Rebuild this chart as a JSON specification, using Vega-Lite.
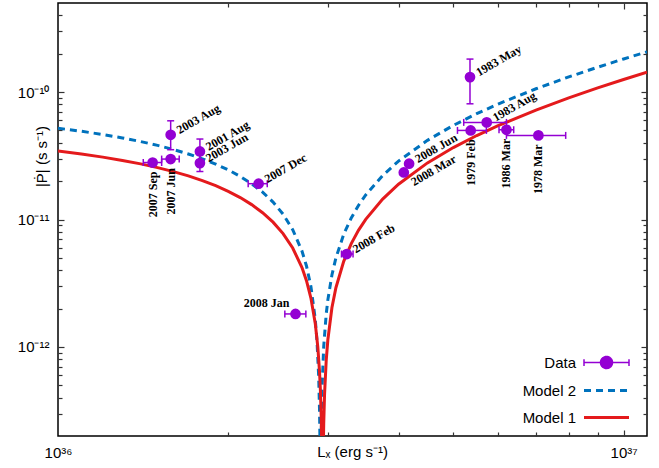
{
  "$schema": "https://vega.github.io/schema/vega-lite/v6.json",
  "width": 589,
  "height": 433,
  "autosize": {"type": "none"},
  "padding": {"left": 58, "top": 3, "right": 12, "bottom": 32},
  "background": "white",
  "config": {
    "font": "Liberation Sans",
    "view": {"stroke": "#000", "strokeWidth": 1.5},
    "axis": {"labels": false, "domain": false, "grid": false, "title": null, "tickColor": "#333", "tickWidth": 1.2, "ticks": true, "zindex": 1}
  },
  "datasets": {
    "models": [
      {"series": "Model 1", "L": 1.0e36, "P": 3.442e-11},
      {"series": "Model 1", "L": 1.1e36, "P": 3.264e-11},
      {"series": "Model 1", "L": 1.2e36, "P": 3.087e-11},
      {"series": "Model 1", "L": 1.3e36, "P": 2.909e-11},
      {"series": "Model 1", "L": 1.4e36, "P": 2.731e-11},
      {"series": "Model 1", "L": 1.5e36, "P": 2.553e-11},
      {"series": "Model 1", "L": 1.6e36, "P": 2.375e-11},
      {"series": "Model 1", "L": 1.7e36, "P": 2.198e-11},
      {"series": "Model 1", "L": 1.8e36, "P": 2.020e-11},
      {"series": "Model 1", "L": 1.9e36, "P": 1.842e-11},
      {"series": "Model 1", "L": 2.0e36, "P": 1.664e-11},
      {"series": "Model 1", "L": 2.1e36, "P": 1.486e-11},
      {"series": "Model 1", "L": 2.2e36, "P": 1.309e-11},
      {"series": "Model 1", "L": 2.3e36, "P": 1.131e-11},
      {"series": "Model 1", "L": 2.4e36, "P": 9.53e-12},
      {"series": "Model 1", "L": 2.5e36, "P": 7.752e-12},
      {"series": "Model 1", "L": 2.6e36, "P": 5.974e-12},
      {"series": "Model 1", "L": 2.7e36, "P": 4.196e-12},
      {"series": "Model 1", "L": 2.75e36, "P": 3.307e-12},
      {"series": "Model 1", "L": 2.8e36, "P": 2.418e-12},
      {"series": "Model 1", "L": 2.85e36, "P": 1.529e-12},
      {"series": "Model 1", "L": 2.88e36, "P": 9.955e-13},
      {"series": "Model 1", "L": 2.9e36, "P": 6.40e-13},
      {"series": "Model 1", "L": 2.91e36, "P": 4.62e-13},
      {"series": "Model 1", "L": 2.92e36, "P": 2.845e-13},
      {"series": "Model 1", "L": 2.926e36, "P": 1.775e-13},
      {"series": "Model 1", "L": 2.946e36, "P": 1.778e-13},
      {"series": "Model 1", "L": 2.95e36, "P": 2.49e-13},
      {"series": "Model 1", "L": 2.96e36, "P": 4.265e-13},
      {"series": "Model 1", "L": 2.98e36, "P": 7.82e-13},
      {"series": "Model 1", "L": 3.0e36, "P": 1.138e-12},
      {"series": "Model 1", "L": 3.05e36, "P": 2.027e-12},
      {"series": "Model 1", "L": 3.1e36, "P": 2.916e-12},
      {"series": "Model 1", "L": 3.2e36, "P": 4.694e-12},
      {"series": "Model 1", "L": 3.3e36, "P": 6.472e-12},
      {"series": "Model 1", "L": 3.4e36, "P": 8.25e-12},
      {"series": "Model 1", "L": 3.5e36, "P": 1.003e-11},
      {"series": "Model 1", "L": 3.75e36, "P": 1.447e-11},
      {"series": "Model 1", "L": 4.0e36, "P": 1.892e-11},
      {"series": "Model 1", "L": 4.5e36, "P": 2.781e-11},
      {"series": "Model 1", "L": 5.0e36, "P": 3.67e-11},
      {"series": "Model 1", "L": 5.5e36, "P": 4.559e-11},
      {"series": "Model 1", "L": 6.0e36, "P": 5.448e-11},
      {"series": "Model 1", "L": 7.0e36, "P": 7.226e-11},
      {"series": "Model 1", "L": 8.0e36, "P": 9.003e-11},
      {"series": "Model 1", "L": 9.0e36, "P": 1.078e-10},
      {"series": "Model 1", "L": 1.0e37, "P": 1.256e-10},
      {"series": "Model 1", "L": 1.1e37, "P": 1.434e-10},
      {"series": "Model 2", "L": 1.0e36, "P": 5.204e-11},
      {"series": "Model 2", "L": 1.1e36, "P": 4.924e-11},
      {"series": "Model 2", "L": 1.2e36, "P": 4.645e-11},
      {"series": "Model 2", "L": 1.3e36, "P": 4.367e-11},
      {"series": "Model 2", "L": 1.4e36, "P": 4.091e-11},
      {"series": "Model 2", "L": 1.5e36, "P": 3.815e-11},
      {"series": "Model 2", "L": 1.6e36, "P": 3.540e-11},
      {"series": "Model 2", "L": 1.7e36, "P": 3.266e-11},
      {"series": "Model 2", "L": 1.8e36, "P": 2.993e-11},
      {"series": "Model 2", "L": 1.9e36, "P": 2.721e-11},
      {"series": "Model 2", "L": 2.0e36, "P": 2.450e-11},
      {"series": "Model 2", "L": 2.1e36, "P": 2.178e-11},
      {"series": "Model 2", "L": 2.2e36, "P": 1.908e-11},
      {"series": "Model 2", "L": 2.3e36, "P": 1.639e-11},
      {"series": "Model 2", "L": 2.4e36, "P": 1.369e-11},
      {"series": "Model 2", "L": 2.5e36, "P": 1.101e-11},
      {"series": "Model 2", "L": 2.6e36, "P": 8.329e-12},
      {"series": "Model 2", "L": 2.7e36, "P": 5.655e-12},
      {"series": "Model 2", "L": 2.75e36, "P": 4.32e-12},
      {"series": "Model 2", "L": 2.8e36, "P": 2.985e-12},
      {"series": "Model 2", "L": 2.85e36, "P": 1.652e-12},
      {"series": "Model 2", "L": 2.87e36, "P": 1.12e-12},
      {"series": "Model 2", "L": 2.89e36, "P": 5.86e-13},
      {"series": "Model 2", "L": 2.9e36, "P": 3.203e-13},
      {"series": "Model 2", "L": 2.905e36, "P": 1.874e-13},
      {"series": "Model 2", "L": 2.918e36, "P": 1.591e-13},
      {"series": "Model 2", "L": 2.92e36, "P": 2.119e-13},
      {"series": "Model 2", "L": 2.93e36, "P": 4.782e-13},
      {"series": "Model 2", "L": 2.95e36, "P": 1.011e-12},
      {"series": "Model 2", "L": 2.98e36, "P": 1.808e-12},
      {"series": "Model 2", "L": 3.0e36, "P": 2.34e-12},
      {"series": "Model 2", "L": 3.05e36, "P": 3.668e-12},
      {"series": "Model 2", "L": 3.1e36, "P": 4.996e-12},
      {"series": "Model 2", "L": 3.2e36, "P": 7.648e-12},
      {"series": "Model 2", "L": 3.3e36, "P": 1.0295e-11},
      {"series": "Model 2", "L": 3.4e36, "P": 1.294e-11},
      {"series": "Model 2", "L": 3.5e36, "P": 1.558e-11},
      {"series": "Model 2", "L": 3.75e36, "P": 2.216e-11},
      {"series": "Model 2", "L": 4.0e36, "P": 2.872e-11},
      {"series": "Model 2", "L": 4.5e36, "P": 4.178e-11},
      {"series": "Model 2", "L": 5.0e36, "P": 5.477e-11},
      {"series": "Model 2", "L": 5.5e36, "P": 6.770e-11},
      {"series": "Model 2", "L": 6.0e36, "P": 8.056e-11},
      {"series": "Model 2", "L": 7.0e36, "P": 1.0614e-10},
      {"series": "Model 2", "L": 8.0e36, "P": 1.3152e-10},
      {"series": "Model 2", "L": 9.0e36, "P": 1.5675e-10},
      {"series": "Model 2", "L": 1.0e37, "P": 1.8186e-10},
      {"series": "Model 2", "L": 1.1e37, "P": 2.0682e-10}
    ],
    "obs": [
      {"series": "Data", "label": "2007 Sep", "L": 1.470e36, "P": 2.80e-11, "Lmin": 1.415e36, "Lmax": 1.525e36},
      {"series": "Data", "label": "2007 Jun", "L": 1.582e36, "P": 2.98e-11, "Lmin": 1.525e36, "Lmax": 1.638e36},
      {"series": "Data", "label": "2003 Aug", "L": 1.582e36, "P": 4.62e-11, "Pmin": 3.53e-11, "Pmax": 5.95e-11},
      {"series": "Data", "label": "2001 Aug", "L": 1.782e36, "P": 3.42e-11, "Pmin": 2.9e-11, "Pmax": 4.28e-11},
      {"series": "Data", "label": "2003 Jun", "L": 1.782e36, "P": 2.77e-11, "Pmin": 2.38e-11, "Pmax": 3.22e-11},
      {"series": "Data", "label": "2007 Dec", "L": 2.263e36, "P": 1.91e-11, "Lmin": 2.169e36, "Lmax": 2.344e36},
      {"series": "Data", "label": "2008 Jan", "L": 2.630e36, "P": 1.815e-12, "Lmin": 2.518e36, "Lmax": 2.743e36},
      {"series": "Data", "label": "2008 Feb", "L": 3.24e36, "P": 5.36e-12, "Lmin": 3.171e36, "Lmax": 3.324e36},
      {"series": "Data", "label": "2008 Mar", "L": 4.087e36, "P": 2.34e-11},
      {"series": "Data", "label": "2008 Jun", "L": 4.176e36, "P": 2.74e-11},
      {"series": "Data", "label": "1983 May", "L": 5.351e36, "P": 1.311e-10, "Pmin": 8.09e-11, "Pmax": 1.815e-10},
      {"series": "Data", "label": "1979 Feb", "L": 5.366e36, "P": 5.0e-11, "Lmin": 5.085e36, "Lmax": 5.720e36},
      {"series": "Data", "label": "1983 Aug", "L": 5.728e36, "P": 5.78e-11, "Lmin": 5.216e36, "Lmax": 6.207e36},
      {"series": "Data", "label": "1986 Mar", "L": 6.207e36, "P": 5.06e-11, "Lmin": 6.022e36, "Lmax": 6.393e36},
      {"series": "Data", "label": "1978 Mar", "L": 7.069e36, "P": 4.57e-11, "Lmin": 6.207e36, "Lmax": 7.900e36}
    ]
  },
  "resolve": {"scale": {"x": "independent", "y": "independent", "color": "shared"}, "axis": {"x": "independent", "y": "independent"}},
  "layer": [
    {
      "data": {"name": "models"},
      "transform": [{"filter": "datum.series == 'Model 2'"}],
      "mark": {"type": "line", "strokeWidth": 3, "strokeDash": [7, 5], "clip": true},
      "encoding": {
        "x": {"field": "L", "type": "quantitative",
          "scale": {"type": "log", "domain": [1e36, 1.1e37], "nice": false, "zero": false},
          "axis": {"orient": "bottom", "values": [1e36, 1e37], "ticks": false, "tickSize": 0, "labels": true,
            "labelExpr": "datum.value == 1e36 ? '10³⁶' : '10³⁷'",
            "labelBaseline": "alphabetic", "labelPadding": 21, "labelFont": "Liberation Sans", "labelFontSize": 15, "labelColor": "#000",
            "labelFlush": false, "labelOverlap": false,
            "title": "Lₓ (erg s⁻¹)", "titleFont": "Liberation Sans", "titleFontSize": 15, "titleFontWeight": "normal", "titleColor": "#000",
            "titleX": 294, "titleY": 20, "titleBaseline": "alphabetic", "titleAlign": "center"}},
        "y": {"field": "P", "type": "quantitative",
          "scale": {"type": "log", "domain": [2e-13, 5e-10], "nice": false, "zero": false},
          "axis": {"orient": "left", "values": [1e-12, 1e-11, 1e-10], "ticks": false, "tickSize": 0, "labels": true,
            "labelExpr": "datum.value == 1e-10 ? '10⁻¹⁰' : datum.value == 1e-11 ? '10⁻¹¹' : '10⁻¹²'",
            "labelPadding": 9, "labelFont": "Liberation Sans", "labelFontSize": 15, "labelColor": "#000", "labelBaseline": "middle",
            "labelFlush": false, "labelOverlap": false,
            "title": "|Ṗ| (s s⁻¹)", "titleFont": "Liberation Sans", "titleFontSize": 15, "titleFontWeight": "normal", "titleColor": "#000",
            "titleX": -12, "titleY": 153, "titleAngle": 270, "titleBaseline": "alphabetic", "titleAlign": "center"}},
        "color": {"field": "series", "type": "nominal",
          "scale": {"domain": ["Data", "Model 2", "Model 1"], "range": ["#9400d3", "#0072bd", "#e41a1c"]},
          "legend": {
            "orient": "none", "legendX": 541, "legendY": 352, "padding": 0, "title": null, "direction": "vertical",
            "symbolSize": 225, "rowPadding": 11,
            "labelFont": "Liberation Sans", "labelFontSize": 15, "labelColor": "#000", "labelAlign": "right", "labelOffset": -38,
            "encode": {"symbols": {"update": {
              "shape": {"signal": "datum.value === 'Data' ? 'M-3,0L3,0M-3,-0.45L-3,0.45M3,-0.45L3,0.45M0.8,0A0.8,0.8,0,1,1,-0.8,0A0.8,0.8,0,1,1,0.8,0Z' : 'M-3,0L3,0'"},
              "stroke": {"signal": "scale('color', datum.value)"},
              "fill": {"signal": "datum.value === 'Data' ? scale('color', datum.value) : 'transparent'"},
              "strokeWidth": {"signal": "datum.value === 'Data' ? 1.5 : 3"},
              "strokeDash": {"signal": "datum.value === 'Model 2' ? [7, 5] : [1, 0]"},
              "opacity": {"value": 1}
            }}}
          }}
      }
    },
    {
      "data": {"name": "models"},
      "transform": [{"filter": "datum.series == 'Model 1'"}],
      "mark": {"type": "line", "strokeWidth": 3, "clip": true},
      "encoding": {
        "x": {"field": "L", "type": "quantitative",
          "scale": {"type": "log", "domain": [1e36, 1.1e37], "nice": false, "zero": false},
          "axis": {"orient": "top", "offset": -433, "values": [2e36, 3e36, 4e36, 5e36, 6e36, 7e36, 8e36, 9e36], "tickSize": 4}},
        "y": {"field": "P", "type": "quantitative",
          "scale": {"type": "log", "domain": [2e-13, 5e-10], "nice": false, "zero": false},
          "axis": {"orient": "right", "offset": -589, "values": [3e-13, 4e-13, 5e-13, 6e-13, 7e-13, 8e-13, 9e-13, 2e-12, 3e-12, 4e-12, 5e-12, 6e-12, 7e-12, 8e-12, 9e-12, 2e-11, 3e-11, 4e-11, 5e-11, 6e-11, 7e-11, 8e-11, 9e-11, 2e-10, 3e-10, 4e-10], "tickSize": 4}},
        "color": {"field": "series", "type": "nominal"}
      }
    },
    {
      "data": {"name": "obs"},
      "transform": [{"filter": "isValid(datum.Lmin)"}],
      "mark": {"type": "rule", "color": "#9400d3", "strokeWidth": 1.5},
      "encoding": {
        "x": {"field": "Lmin", "type": "quantitative",
          "scale": {"type": "log", "domain": [1e36, 1.1e37], "nice": false, "zero": false},
          "axis": {"orient": "bottom", "offset": -433, "values": [2e36, 3e36, 4e36, 5e36, 6e36, 7e36, 8e36, 9e36], "tickSize": 4}},
        "x2": {"field": "Lmax"},
        "y": {"field": "P", "type": "quantitative",
          "scale": {"type": "log", "domain": [2e-13, 5e-10], "nice": false, "zero": false},
          "axis": {"orient": "left", "offset": -589, "values": [3e-13, 4e-13, 5e-13, 6e-13, 7e-13, 8e-13, 9e-13, 2e-12, 3e-12, 4e-12, 5e-12, 6e-12, 7e-12, 8e-12, 9e-12, 2e-11, 3e-11, 4e-11, 5e-11, 6e-11, 7e-11, 8e-11, 9e-11, 2e-10, 3e-10, 4e-10], "tickSize": 4}}
      }
    },
    {
      "data": {"name": "obs"},
      "transform": [{"filter": "isValid(datum.Pmin)"}],
      "mark": {"type": "rule", "color": "#9400d3", "strokeWidth": 1.5},
      "encoding": {
        "x": {"field": "L", "type": "quantitative",
          "scale": {"type": "log", "domain": [1e36, 1.1e37], "nice": false, "zero": false},
          "axis": {"orient": "top", "offset": -433, "values": [1e37], "tickSize": 6}},
        "y": {"field": "Pmin", "type": "quantitative",
          "scale": {"type": "log", "domain": [2e-13, 5e-10], "nice": false, "zero": false},
          "axis": {"orient": "right", "offset": -589, "values": [1e-12, 1e-11, 1e-10], "tickSize": 6}},
        "y2": {"field": "Pmax"}
      }
    },
    {
      "data": {"name": "obs"},
      "transform": [{"filter": "isValid(datum.Lmin)"}, {"fold": ["Lmin", "Lmax"], "as": ["end", "Lend"]}],
      "mark": {"type": "point", "shape": "M0,-1L0,1", "size": 49, "filled": false, "stroke": "#9400d3", "strokeWidth": 1.5, "opacity": 1},
      "encoding": {
        "x": {"field": "Lend", "type": "quantitative",
          "scale": {"type": "log", "domain": [1e36, 1.1e37], "nice": false, "zero": false},
          "axis": {"orient": "bottom", "offset": -433, "values": [1e37], "tickSize": 6}},
        "y": {"field": "P", "type": "quantitative",
          "scale": {"type": "log", "domain": [2e-13, 5e-10], "nice": false, "zero": false},
          "axis": {"orient": "left", "offset": -589, "values": [1e-12, 1e-11, 1e-10], "tickSize": 6}}
      }
    },
    {
      "data": {"name": "obs"},
      "transform": [{"filter": "isValid(datum.Pmin)"}, {"fold": ["Pmin", "Pmax"], "as": ["end", "Pend"]}],
      "mark": {"type": "point", "shape": "M-1,0L1,0", "size": 49, "filled": false, "stroke": "#9400d3", "strokeWidth": 1.5, "opacity": 1},
      "encoding": {
        "x": {"field": "L", "type": "quantitative", "scale": {"type": "log", "domain": [1e36, 1.1e37], "nice": false, "zero": false}, "axis": null},
        "y": {"field": "Pend", "type": "quantitative", "scale": {"type": "log", "domain": [2e-13, 5e-10], "nice": false, "zero": false}, "axis": null}
      }
    },
    {
      "data": {"name": "obs"},
      "mark": {"type": "point", "shape": "circle", "filled": true, "size": 115, "opacity": 1},
      "encoding": {
        "x": {"field": "L", "type": "quantitative", "scale": {"type": "log", "domain": [1e36, 1.1e37], "nice": false, "zero": false}, "axis": null},
        "y": {"field": "P", "type": "quantitative", "scale": {"type": "log", "domain": [2e-13, 5e-10], "nice": false, "zero": false}, "axis": null},
        "color": {"field": "series", "type": "nominal"}
      }
    },
    {
      "data": {"name": "obs"},
      "transform": [{"filter": "indexof(['2003 Aug','2001 Aug','2003 Jun','2007 Dec','2008 Feb','2008 Jun','1983 May','1983 Aug'], datum.label) >= 0"}],
      "mark": {"type": "text", "font": "Liberation Serif", "fontWeight": "bold", "fontSize": 12, "color": "#000", "angle": 330, "align": "left", "baseline": "middle", "dx": 8, "dy": 0},
      "encoding": {
        "x": {"field": "L", "type": "quantitative", "scale": {"type": "log", "domain": [1e36, 1.1e37], "nice": false, "zero": false}, "axis": null},
        "y": {"field": "P", "type": "quantitative", "scale": {"type": "log", "domain": [2e-13, 5e-10], "nice": false, "zero": false}, "axis": null},
        "text": {"field": "label"}
      }
    },
    {
      "data": {"name": "obs"},
      "transform": [{"filter": "datum.label == '2008 Mar'"}],
      "mark": {"type": "text", "font": "Liberation Serif", "fontWeight": "bold", "fontSize": 12, "color": "#000", "angle": 330, "align": "left", "baseline": "middle", "dx": 2, "dy": 13},
      "encoding": {
        "x": {"field": "L", "type": "quantitative", "scale": {"type": "log", "domain": [1e36, 1.1e37], "nice": false, "zero": false}, "axis": null},
        "y": {"field": "P", "type": "quantitative", "scale": {"type": "log", "domain": [2e-13, 5e-10], "nice": false, "zero": false}, "axis": null},
        "text": {"field": "label"}
      }
    },
    {
      "data": {"name": "obs"},
      "transform": [{"filter": "indexof(['2007 Sep','2007 Jun','1979 Feb','1986 Mar','1978 Mar'], datum.label) >= 0"}],
      "mark": {"type": "text", "font": "Liberation Serif", "fontWeight": "bold", "fontSize": 12, "color": "#000", "angle": 270, "align": "right", "baseline": "middle", "dx": -9, "dy": 0},
      "encoding": {
        "x": {"field": "L", "type": "quantitative", "scale": {"type": "log", "domain": [1e36, 1.1e37], "nice": false, "zero": false}, "axis": null},
        "y": {"field": "P", "type": "quantitative", "scale": {"type": "log", "domain": [2e-13, 5e-10], "nice": false, "zero": false}, "axis": null},
        "text": {"field": "label"}
      }
    },
    {
      "data": {"name": "obs"},
      "transform": [{"filter": "datum.label == '2008 Jan'"}],
      "mark": {"type": "text", "font": "Liberation Serif", "fontWeight": "bold", "fontSize": 12, "color": "#000", "align": "right", "baseline": "middle", "dx": -6, "dy": -11},
      "encoding": {
        "x": {"field": "L", "type": "quantitative", "scale": {"type": "log", "domain": [1e36, 1.1e37], "nice": false, "zero": false}, "axis": null},
        "y": {"field": "P", "type": "quantitative", "scale": {"type": "log", "domain": [2e-13, 5e-10], "nice": false, "zero": false}, "axis": null},
        "text": {"field": "label"}
      }
    }
  ]
}
